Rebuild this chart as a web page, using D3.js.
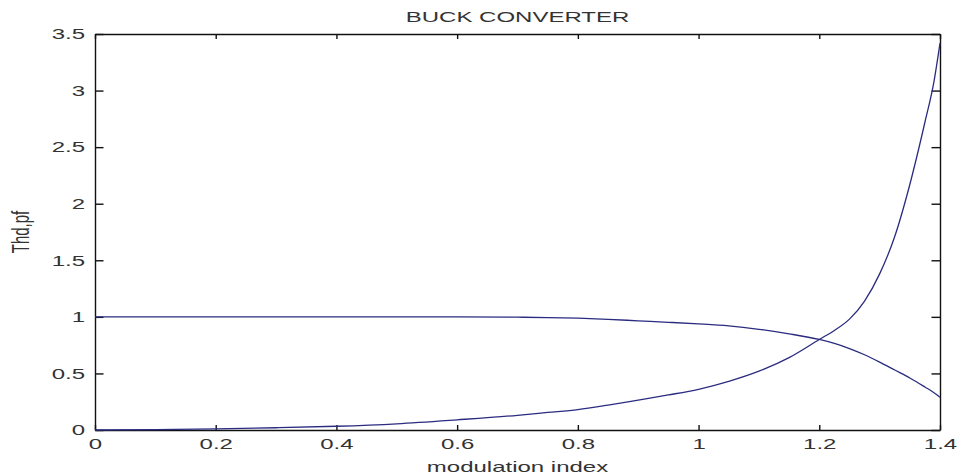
<!DOCTYPE html>
<html>
<head>
<meta charset="utf-8">
<script src="https://cdn.jsdelivr.net/npm/d3@7"></script>
<style>
  html, body { margin: 0; padding: 0; background: #fff; }
  svg { display: block; }
  text { font-family: "Liberation Sans", Arial, sans-serif; fill: #333; }
</style>
</head>
<body>
<div id="chart"></div>
<script>
// modulation index samples
const mIndex = [0, 0.1, 0.2, 0.3, 0.4, 0.5, 0.6, 0.7, 0.75, 0.8, 0.85, 0.9, 0.95, 1.0,
  1.05, 1.1, 1.15, 1.2, 1.225, 1.25, 1.275, 1.3, 1.325, 1.35, 1.375, 1.39, 1.4];
// THD (rising curve)
const thd = [0, 0.003, 0.01, 0.02, 0.033, 0.055, 0.09, 0.13, 0.155, 0.18, 0.22, 0.265, 0.31, 0.36,
  0.43, 0.52, 0.64, 0.80, 0.88, 0.98, 1.14, 1.38, 1.71, 2.17, 2.72, 3.08, 3.42];
// power factor (falling curve)
const pf = [1, 1, 1, 1, 1, 1, 1, 0.997, 0.993, 0.988, 0.978, 0.965, 0.952, 0.938,
  0.92, 0.89, 0.85, 0.80, 0.765, 0.72, 0.665, 0.60, 0.53, 0.46, 0.38, 0.33, 0.29];

const xTicks = [0, 0.2, 0.4, 0.6, 0.8, 1, 1.2, 1.4];
const yTicks = [0, 0.5, 1, 1.5, 2, 2.5, 3, 3.5];
const xTickLabels = ["0", "0.2", "0.4", "0.6", "0.8", "1", "1.2", "1.4"];
const yTickLabels = ["0", "0.5", "1", "1.5", "2", "2.5", "3", "3.5"];

const width = 958, height = 475;
const marginLeft = 95, marginRight = 18, marginTop = 34, marginBottom = 45;
const sx = 1.6; // the picture is stretched sideways, text too
const lineColor = "#2b2b80";

const x = d3.scaleLinear([0, 1.4], [marginLeft, width - marginRight]);
const y = d3.scaleLinear([0, 3.5], [height - marginBottom, marginTop]);

const svg = d3.select("#chart").append("svg")
    .attr("width", width)
    .attr("height", height)
    .attr("viewBox", [0, 0, width, height]);

// stretch tick text sideways while keeping its anchor point
function stretchText(g, dx) {
  g.selectAll(".tick text")
      .attr("x", dx / sx)
      .attr("transform", `scale(${sx},1)`)
      .attr("fill", "#333")
      .style("font-size", "15px");
}

const xAxis = d3.axisBottom(x).tickValues(xTicks)
    .tickFormat((d, i) => xTickLabels[i])
    .tickSizeInner(-5).tickSizeOuter(0).tickPadding(8);
const yAxis = d3.axisLeft(y).tickValues(yTicks)
    .tickFormat((d, i) => yTickLabels[i])
    .tickSizeInner(-8.5).tickSizeOuter(0).tickPadding(10);

svg.append("g")
    .attr("transform", `translate(0,${height - marginBottom})`)
    .call(xAxis)
    .call(g => stretchText(g, 0));

svg.append("g")
    .attr("transform", `translate(${marginLeft},0)`)
    .call(yAxis)
    .call(g => stretchText(g, -10));

// top and right box edges with inward ticks, no labels
svg.append("g")
    .attr("transform", `translate(0,${marginTop})`)
    .call(d3.axisTop(x).tickValues(xTicks).tickFormat("").tickSizeInner(-5).tickSizeOuter(0));
svg.append("g")
    .attr("transform", `translate(${width - marginRight},0)`)
    .call(d3.axisRight(y).tickValues(yTicks).tickFormat("").tickSizeInner(-8.5).tickSizeOuter(0));

svg.selectAll(".domain, .tick line").attr("stroke", "#111").attr("stroke-width", 1.4);

const line = d3.line().x(d => x(d[0])).y(d => y(d[1])).curve(d3.curveMonotoneX);

[thd, pf].forEach(series => {
  svg.append("path")
      .datum(mIndex.map((m, i) => [m, series[i]]))
      .attr("fill", "none")
      .attr("stroke", lineColor)
      .attr("stroke-width", 1.3)
      .attr("d", line);
});

// title
svg.append("text")
    .attr("transform", `translate(${(marginLeft + width - marginRight) / 2},22) scale(${sx},1)`)
    .attr("text-anchor", "middle")
    .style("font-size", "15px")
    .text("BUCK CONVERTER");

// x label
svg.append("text")
    .attr("transform", `translate(${(marginLeft + width - marginRight) / 2},472) scale(${sx},1)`)
    .attr("text-anchor", "middle")
    .style("font-size", "15px")
    .text("modulation index");

// y label
svg.append("text")
    .attr("transform", `translate(29,${(marginTop + height - marginBottom) / 2}) scale(${sx},1) rotate(-90)`)
    .attr("text-anchor", "middle")
    .style("font-size", "15px")
    .text("Thd,pf");
</script>
</body>
</html>
